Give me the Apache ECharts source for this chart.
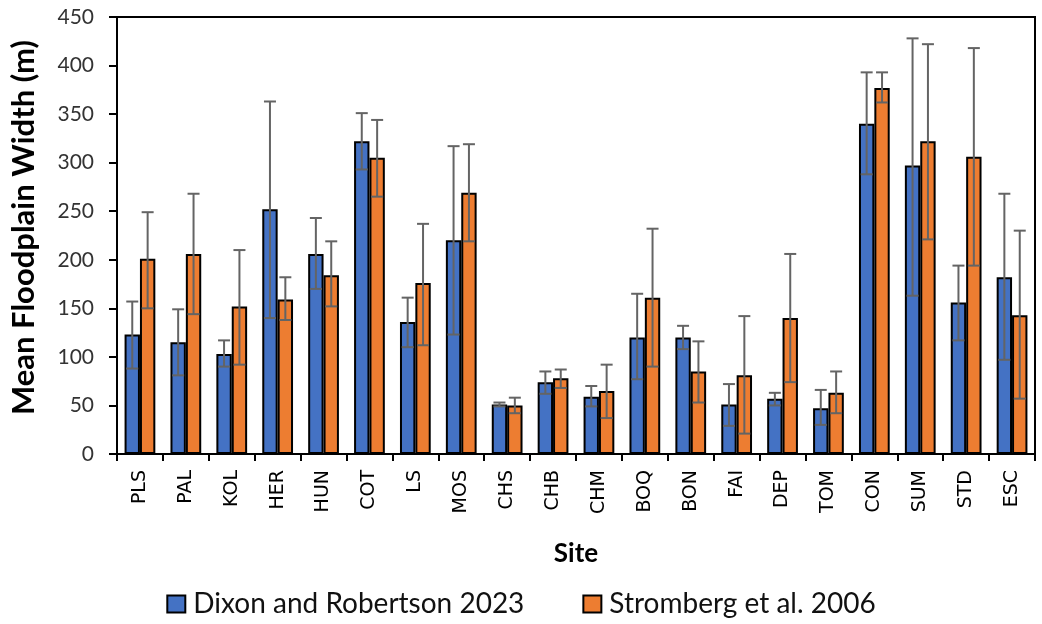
<!DOCTYPE html>
<html lang="en">
<head>
  <meta charset="utf-8">
  <title>Mean Floodplain Width</title>
  <script src="https://cdn.jsdelivr.net/npm/echarts@6/dist/echarts.min.js"></script>
  <style>
    html, body { margin: 0; padding: 0; background: #fff; }
    #chart { width: 1042px; height: 624px; }
  </style>
</head>
<body>
  <div id="chart"></div>
  <script>
    // site codes
    var sites = ['PLS', 'PAL', 'KOL', 'HER', 'HUN', 'COT', 'LS', 'MOS', 'CHS', 'CHB',
      'CHM', 'BOQ', 'BON', 'FAI', 'DEP', 'TOM', 'CON', 'SUM', 'STD', 'ESC'];

    // Dixon and Robertson 2023
    var dixonMean = [123, 115, 103, 252, 206, 322, 136, 220, 51, 74,
      59, 120, 120, 51, 57, 47, 340, 297, 156, 182];
    var dixonLow = [88, 81, 90, 140, 170, 293, 110, 123, 49, 62,
      49, 77, 108, 29, 50, 30, 288, 163, 117, 97];
    var dixonHigh = [157, 149, 117, 363, 243, 351, 161, 317, 53, 85,
      70, 165, 132, 72, 63, 66, 393, 428, 194, 268];

    // Stromberg et al. 2006
    var stromMean = [201, 206, 152, 159, 184, 305, 176, 269, 50, 78,
      65, 161, 85, 81, 140, 63, 377, 322, 306, 143];
    var stromLow = [150, 144, 92, 138, 152, 265, 112, 219, 42, 68,
      37, 90, 53, 21, 74, 42, 362, 221, 194, 57];
    var stromHigh = [249, 268, 210, 182, 219, 344, 237, 319, 58, 87,
      92, 232, 116, 142, 206, 85, 393, 422, 418, 230];

    var yTicks = { min: 0, max: 450, interval: 50 };

    var chart = echarts.init(document.getElementById('chart'));

    var catGapRatio = 0.33;
    var font = 'Lato, sans-serif';

    // error bars, drawn through the category/value scales
    function errorSeries(low, high, side) {
      var data = sites.map(function (s, i) { return [i, low[i], high[i]]; });
      return {
        type: 'custom',
        silent: true,
        z: 10,
        data: data,
        renderItem: function (params, api) {
          var i = api.value(0);
          var bandW = api.size([1, 0])[0];
          var barW = bandW * (1 - catGapRatio) / 2;
          var lo = api.coord([i, api.value(1)]);
          var hi = api.coord([i, api.value(2)]);
          var x = lo[0] + side * barW / 2;
          var cap = 6;
          var st = { stroke: '#646464', lineWidth: 2 };
          return {
            type: 'group',
            children: [
              { type: 'line', shape: { x1: x, y1: hi[1], x2: x, y2: lo[1] }, style: st },
              { type: 'line', shape: { x1: x - cap, y1: hi[1], x2: x + cap, y2: hi[1] }, style: st },
              { type: 'line', shape: { x1: x - cap, y1: lo[1], x2: x + cap, y2: lo[1] }, style: st }
            ]
          };
        }
      };
    }

    var option = {
      animation: false,
      textStyle: { fontFamily: font },
      grid: {
        left: 114, right: 7, top: 17, bottom: 170,
        show: true, borderColor: '#000', borderWidth: 2
      },
      legend: {
        bottom: 1,
        left: 'center',
        itemWidth: 18,
        itemHeight: 17,
        itemGap: 58,
        textStyle: { fontSize: 28, color: '#111', fontFamily: font, padding: [0, 0, 0, 3] },
        data: [
          { name: 'Dixon and Robertson 2023', icon: 'rect', itemStyle: { color: '#4472C4', borderColor: '#000', borderWidth: 2 } },
          { name: 'Stromberg et al. 2006', icon: 'rect', itemStyle: { color: '#ED7D31', borderColor: '#000', borderWidth: 2 } }
        ]
      },
      xAxis: {
        type: 'category',
        data: sites,
        name: 'Site',
        nameLocation: 'middle',
        nameGap: 87,
        nameTextStyle: { fontSize: 26, fontWeight: 'bold', color: '#000', fontFamily: font },
        axisLine: { lineStyle: { color: '#000', width: 2 } },
        axisTick: { show: true, length: 7, lineStyle: { color: '#000', width: 2 } },
        axisLabel: {
          rotate: 90, fontSize: 19, color: '#000', margin: 16,
          fontFamily: 'DejaVu Sans, sans-serif'
        }
      },
      yAxis: {
        type: 'value',
        min: yTicks.min,
        max: yTicks.max,
        interval: yTicks.interval,
        name: 'Mean Floodplain Width (m)',
        nameLocation: 'middle',
        nameGap: 78,
        nameTextStyle: { fontSize: 31, fontWeight: 'bold', color: '#000', fontFamily: font, padding: [0, 0, 0, 16] },
        axisLine: { show: true, lineStyle: { color: '#000', width: 2 } },
        axisTick: { show: true, inside: false, length: 8, lineStyle: { color: '#000', width: 2 } },
        axisLabel: { fontSize: 21, color: '#333', margin: 23, fontFamily: font },
        splitLine: { show: false }
      },
      series: [
        {
          name: 'Dixon and Robertson 2023',
          type: 'bar',
          data: dixonMean,
          barGap: '0%',
          barCategoryGap: '33%',
          itemStyle: { color: '#4472C4', borderColor: '#000', borderWidth: 2 }
        },
        {
          name: 'Stromberg et al. 2006',
          type: 'bar',
          data: stromMean,
          barGap: '0%',
          barCategoryGap: '33%',
          itemStyle: { color: '#ED7D31', borderColor: '#000', borderWidth: 2 }
        },
        errorSeries(dixonLow, dixonHigh, -1),
        errorSeries(stromLow, stromHigh, 1)
      ]
    };

    chart.setOption(option);
  </script>
</body>
</html>
